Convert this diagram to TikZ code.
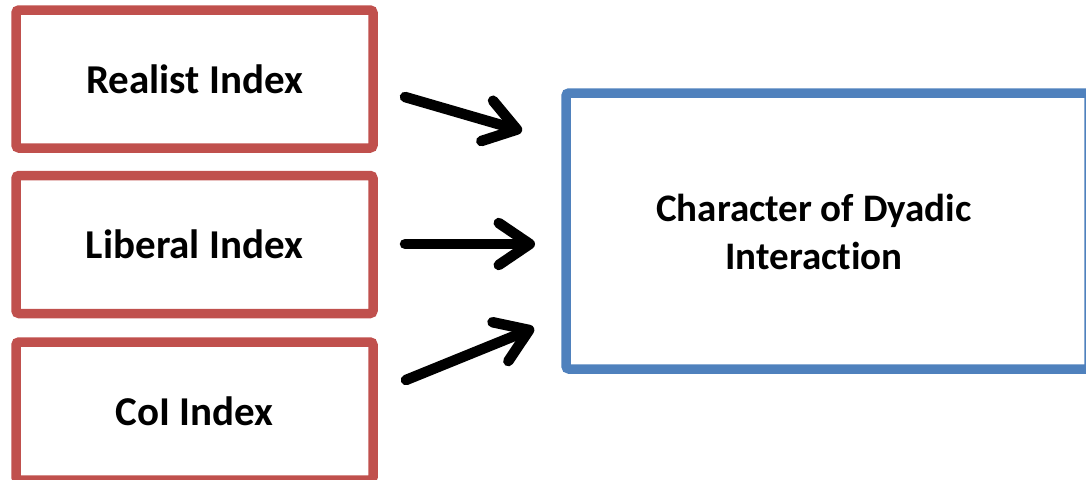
\documentclass[tikz,border=0pt]{standalone}
\usepackage{fontspec}
\setmainfont{Carlito}[Ligatures={NoCommon}]
\usetikzlibrary{arrows.meta}
\definecolor{boxred}{HTML}{C0504D}
\definecolor{boxblue}{HTML}{4F81BD}
\tikzset{
  indexbox/.style={draw=boxred, line width=9.5pt, rounded corners=3pt,
    minimum width=357pt, minimum height=138pt, inner sep=0pt,
    font=\bfseries\fontsize{41}{49}\selectfont},
  outcomebox/.style={draw=boxblue, line width=9.5pt, rounded corners=3pt,
    minimum width=523pt, minimum height=276pt, inner sep=0pt},
  boxtext/.style={align=center, inner sep=0pt,
    font=\bfseries\fontsize{39}{48}\selectfont},
  influence/.style={line width=10.5pt, line cap=round,
    -{Straight Barb[round, length=31pt, width=42pt]}}
}
\begin{document}
\begin{tikzpicture}[x=1pt, y=-1pt]
  \useasboundingbox (0,0) rectangle (1086,479);

  % three explanatory indices
  \node[indexbox] (realist) at (194.5,79)  {Realist Index};
  \node[indexbox] (liberal) at (194.5,244.5) {Liberal Index};
  \node[indexbox] (coi)     at (194.5,411) {CoI Index};

  % outcome box, text set slightly left of the box centre
  \node[outcomebox] (dyad) at (827.5,231) {};
  \node[boxtext] (dyadtext) at (814,232) {Character of Dyadic\\Interaction};

  % arrow end points
  \coordinate (a1s) at (405,97);
  \coordinate (a1e) at (522,131);
  \coordinate (a2s) at (405,244);
  \coordinate (a2e) at (535,244);
  \coordinate (a3s) at (406,380);
  \coordinate (a3e) at (534,328);

  \draw[influence] (a1s) -- (a1e);
  \draw[influence] (a2s) -- (a2e);
  \draw[influence] (a3s) -- (a3e);
\end{tikzpicture}
\end{document}
